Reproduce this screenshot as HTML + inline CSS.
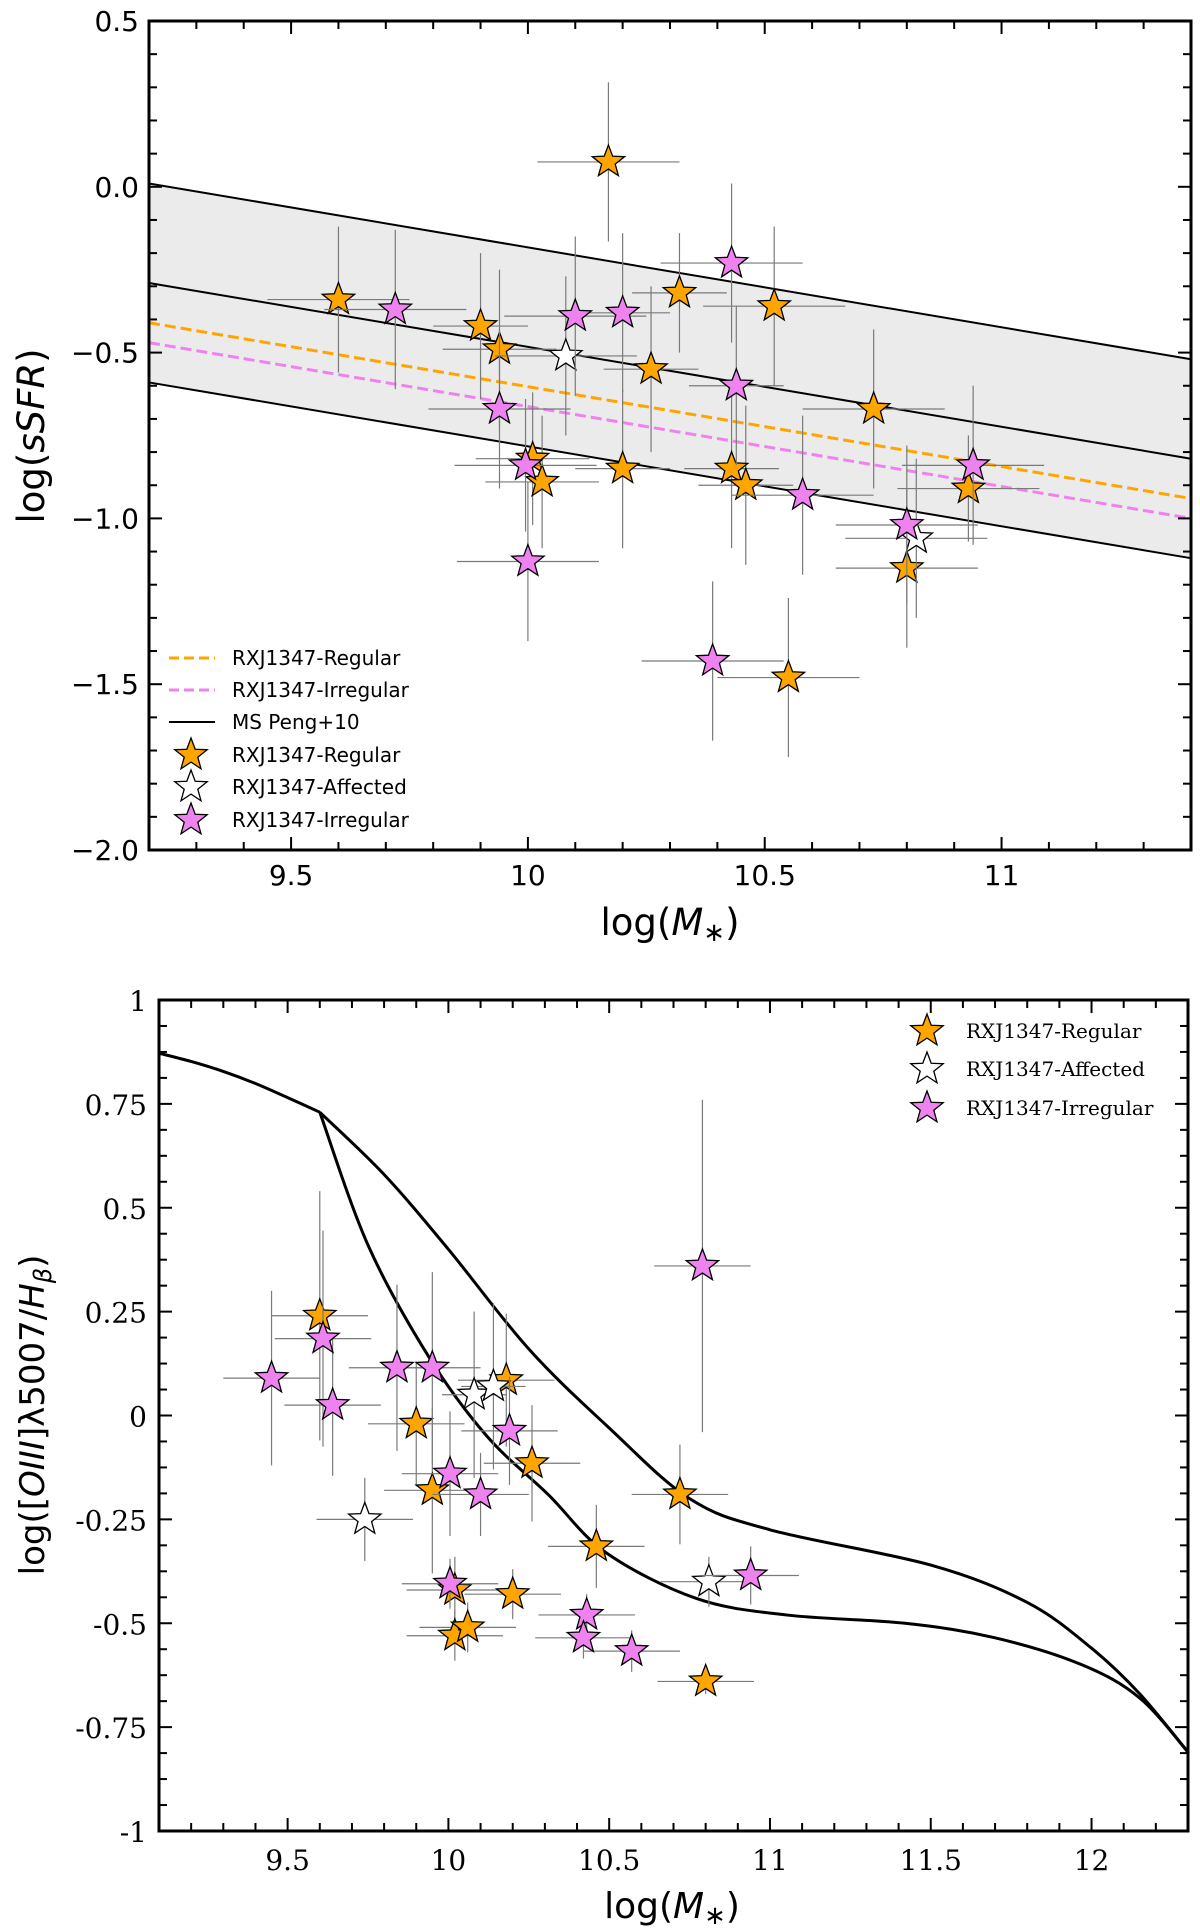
<!DOCTYPE html>
<html><head><meta charset="utf-8"><title>sSFR and MEx diagrams</title>
<style>
html,body{margin:0;padding:0;background:#fff;}
svg{display:block;}
.sans{font-family:"DejaVu Sans","Liberation Sans",sans-serif;}
.serif{font-family:"DejaVu Serif","Liberation Serif",serif;}
</style></head>
<body>
<svg id="fig" width="1200" height="1929" viewBox="0 0 1200 1929" xmlns="http://www.w3.org/2000/svg"></svg>
<script>
// ---------- Top panel data (log sSFR vs log M*) ----------
const topRegX  = [9.60, 9.90, 9.94, 10.01, 10.03, 10.17, 10.20, 10.26, 10.32, 10.43, 10.46, 10.52, 10.55, 10.73, 10.80, 10.93];
const topRegY  = [-0.34, -0.42, -0.49, -0.82, -0.89, 0.075, -0.85, -0.55, -0.32, -0.85, -0.90, -0.36, -1.48, -0.67, -1.15, -0.91];
const topRegXe = [0.15, 0.10, 0.12, 0.12, 0.12, 0.15, 0.10, 0.10, 0.10, 0.10, 0.10, 0.15, 0.15, 0.15, 0.15, 0.15];
const topRegYe = [0.22, 0.22, 0.24, 0.20, 0.20, 0.24, 0.24, 0.25, 0.18, 0.24, 0.24, 0.24, 0.24, 0.24, 0.24, 0.16];
const topAffX  = [10.08, 10.82];
const topAffY  = [-0.51, -1.06];
const topAffXe = [0.15, 0.15];
const topAffYe = [0.24, 0.24];
const topIrrX  = [9.72, 9.94, 9.995, 10.00, 10.10, 10.20, 10.39, 10.43, 10.44, 10.58, 10.80, 10.94];
const topIrrY  = [-0.37, -0.67, -0.84, -1.13, -0.39, -0.38, -1.43, -0.23, -0.60, -0.93, -1.02, -0.84];
const topIrrXe = [0.15, 0.15, 0.15, 0.15, 0.15, 0.10, 0.15, 0.15, 0.10, 0.15, 0.15, 0.15];
const topIrrYe = [0.24, 0.24, 0.20, 0.24, 0.24, 0.24, 0.24, 0.24, 0.24, 0.24, 0.24, 0.24];
const msEndX   = [9.2, 11.4];
const msUpper  = [0.01, -0.52];
const msMid    = [-0.29, -0.82];
const msLower  = [-0.59, -1.12];
const fitReg   = [-0.41, -0.94];
const fitIrr   = [-0.47, -1.00];
const topXTicks = [9.5, 10, 10.5, 11];
const topXTickLabels = ["9.5", "10", "10.5", "11"];
const topYTicks = [0.5, 0.0, -0.5, -1.0, -1.5, -2.0];
const topYTickLabels = ["0.5", "0.0", "\u22120.5", "\u22121.0", "\u22121.5", "\u22122.0"];

// ---------- Bottom panel data (MEx diagram) ----------
const botRegX  = [9.60, 9.90, 9.95, 10.02, 10.02, 10.06, 10.18, 10.20, 10.26, 10.46, 10.72, 10.80];
const botRegY  = [0.24, -0.02, -0.18, -0.42, -0.53, -0.51, 0.085, -0.43, -0.115, -0.315, -0.19, -0.64];
const botRegXe = [0.15, 0.15, 0.15, 0.15, 0.15, 0.15, 0.15, 0.15, 0.15, 0.15, 0.15, 0.15];
const botRegYe = [0.30, 0.15, 0.20, 0.08, 0.06, 0.06, 0.16, 0.06, 0.14, 0.10, 0.12, 0.03];
const botAffX  = [9.74, 10.08, 10.14, 10.81];
const botAffY  = [-0.25, 0.05, 0.07, -0.40];
const botAffXe = [0.15, 0.10, 0.10, 0.15];
const botAffYe = [0.10, 0.20, 0.20, 0.06];
const botIrrX  = [9.45, 9.61, 9.64, 9.84, 9.95, 10.005, 10.10, 10.005, 10.19, 10.43, 10.42, 10.57, 10.79, 10.94];
const botIrrY  = [0.09, 0.185, 0.025, 0.115, 0.115, -0.14, -0.19, -0.405, -0.037, -0.48, -0.535, -0.567, 0.36, -0.385];
const botIrrXe = [0.15, 0.15, 0.15, 0.15, 0.15, 0.15, 0.15, 0.15, 0.15, 0.15, 0.15, 0.15, 0.15, 0.15];
const botIrrYe = [0.21, 0.26, 0.17, 0.20, 0.23, 0.15, 0.10, 0.06, 0.13, 0.05, 0.05, 0.05, 0.40, 0.07];
const curveShareX = [9.1, 9.2, 9.3, 9.4, 9.5, 9.6];
const curveShareY = [0.872, 0.852, 0.828, 0.799, 0.765, 0.73];
const curveUpX = [9.6, 9.8, 10.0, 10.25, 10.5, 10.75, 11.0, 11.5, 11.8, 12.0, 12.15, 12.3];
const curveUpY = [0.73, 0.58, 0.40, 0.16, -0.03, -0.20, -0.275, -0.36, -0.45, -0.56, -0.67, -0.81];
const curveLoX = [9.6, 9.75, 9.94, 10.12, 10.31, 10.49, 10.77, 11.05, 11.42, 11.7, 11.97, 12.15, 12.3];
const curveLoY = [0.73, 0.41, 0.14, -0.05, -0.19, -0.33, -0.44, -0.48, -0.50, -0.535, -0.60, -0.68, -0.81];
const botXTicks = [9.5, 10, 10.5, 11, 11.5, 12];
const botXTickLabels = ["9.5", "10", "10.5", "11", "11.5", "12"];
const botYTicks = [1, 0.75, 0.5, 0.25, 0, -0.25, -0.5, -0.75, -1];
const botYTickLabels = ["1", "0.75", "0.5", "0.25", "0", "-0.25", "-0.5", "-0.75", "-1"];

const NS = "http://www.w3.org/2000/svg";
const svg = document.getElementById("fig");
function mk(tag, attrs, parent) {
  const e = document.createElementNS(NS, tag);
  for (const k in attrs) e.setAttribute(k, attrs[k]);
  (parent || svg).appendChild(e);
  return e;
}
function starPath(cx, cy, R) {
  const r = R * 0.42; let d = "";
  for (let i = 0; i < 10; i++) {
    const a = -Math.PI / 2 + i * Math.PI / 5;
    const rr = i % 2 ? r : R;
    d += (i ? "L" : "M") + (cx + rr * Math.cos(a)).toFixed(2) + "," + (cy + rr * Math.sin(a)).toFixed(2);
  }
  return d + "Z";
}
function scale(d0, d1, p0, p1) { return v => p0 + (v - d0) / (d1 - d0) * (p1 - p0); }

function axesFrame(g, L, R, T, B, sx, sy, xMinor, xMajor, yMinorL, yMinorR, yMajor, xr, yr) {
  const tk = (x1, y1, x2, y2) => mk("line", {x1, y1, x2, y2, stroke: "#000", "stroke-width": 2}, g);
  for (let v = Math.ceil(xr[0] / xMinor - 1e-6) * xMinor; v <= xr[1] + 1e-9; v += xMinor) {
    const X = sx(v); const maj = Math.abs(v / xMajor - Math.round(v / xMajor)) < 1e-6;
    const len = maj ? 13 : 8;
    tk(X, B, X, B - len); tk(X, T, X, T + len);
  }
  for (let v = Math.ceil(yr[0] / yMinorL - 1e-6) * yMinorL; v <= yr[1] + 1e-9; v += yMinorL) {
    const Y = sy(v); const maj = Math.abs(v / yMajor - Math.round(v / yMajor)) < 1e-6;
    tk(L, Y, L + (maj ? 13 : 8), Y);
  }
  for (let v = Math.ceil(yr[0] / yMinorR - 1e-6) * yMinorR; v <= yr[1] + 1e-9; v += yMinorR) {
    const Y = sy(v); const maj = Math.abs(v / yMajor - Math.round(v / yMajor)) < 1e-6;
    tk(R, Y, R - (maj ? 13 : 8), Y);
  }
  const fr = mk("rect", {x: L, y: T, width: R - L, height: B - T, fill: "none", stroke: "#000", "stroke-width": 3}, g);
  
  
}

function drawSeries(g, xs, ys, xe, ye, fill, sx, sy, name) {
  const eg = mk("g", {}, g);
  
  
  for (let i = 0; i < xs.length; i++) {
    mk("line", {x1: sx(xs[i] - xe[i]), x2: sx(xs[i] + xe[i]), y1: sy(ys[i]), y2: sy(ys[i]), stroke: "#7a7a7a", "stroke-width": 1.2}, eg);
    mk("line", {x1: sx(xs[i]), x2: sx(xs[i]), y1: sy(ys[i] - ye[i]), y2: sy(ys[i] + ye[i]), stroke: "#7a7a7a", "stroke-width": 1.2}, eg);
  }
  const sg = mk("g", {}, g);
  
  
  for (let i = 0; i < xs.length; i++) {
    const p = mk("path", {d: starPath(sx(xs[i]), sy(ys[i]), 17), fill, stroke: "#000", "stroke-width": 1.3, "stroke-linejoin": "miter"}, sg);
    
    
  }
}
function polyline(g, xs, ys, sx, sy, attrs, name) {
  let d = "";
  for (let i = 0; i < xs.length; i++) d += (i ? "L" : "M") + sx(xs[i]).toFixed(2) + "," + sy(ys[i]).toFixed(2);
  const p = mk("path", Object.assign({d, fill: "none"}, attrs), g);
  
  
  return p;
}
function smoothLine(g, xs, ys, sx, sy, attrs, name) {
  const P = xs.map((x, i) => [sx(x), sy(ys[i])]);
  let d = "M" + P[0][0] + "," + P[0][1];
  for (let i = 0; i < P.length - 1; i++) {
    const p0 = P[Math.max(i - 1, 0)], p1 = P[i], p2 = P[i + 1], p3 = P[Math.min(i + 2, P.length - 1)];
    const c1 = [p1[0] + (p2[0] - p0[0]) / 6, p1[1] + (p2[1] - p0[1]) / 6];
    const c2 = [p2[0] - (p3[0] - p1[0]) / 6, p2[1] - (p3[1] - p1[1]) / 6];
    d += "C" + c1.join(",") + " " + c2.join(",") + " " + p2.join(",");
  }
  const p = mk("path", Object.assign({d, fill: "none"}, attrs), g);
  
  
}
function text(g, x, y, s, attrs, name) {
  const t = mk("text", Object.assign({x, y}, attrs), g);
  t.textContent = s;
  
  
  return t;
}

// ================= TOP PANEL =================
(function () {
  const L = 149, R = 1191, T = 21, B = 850;
  const sx = scale(9.2, 11.4, L, R), sy = scale(0.5, -2.0, T, B);
  const g = mk("g", {});
  
  
  const band = mk("path", {d: "M" + sx(msEndX[0]) + "," + sy(msUpper[0]) + "L" + sx(msEndX[1]) + "," + sy(msUpper[1]) + "L" + sx(msEndX[1]) + "," + sy(msLower[1]) + "L" + sx(msEndX[0]) + "," + sy(msLower[0]) + "Z", fill: "#ebebeb"}, g);
  
  
  polyline(g, msEndX, msUpper, sx, sy, {stroke: "#000", "stroke-width": 2}, "ms-upper-line");
  polyline(g, msEndX, msMid, sx, sy, {stroke: "#000", "stroke-width": 2}, "ms-peng-line");
  polyline(g, msEndX, msLower, sx, sy, {stroke: "#000", "stroke-width": 2}, "ms-lower-line");
  polyline(g, msEndX, fitReg, sx, sy, {stroke: "#ffa500", "stroke-width": 3, "stroke-dasharray": "11,5"}, "regular-fit-line");
  polyline(g, msEndX, fitIrr, sx, sy, {stroke: "#ee82ee", "stroke-width": 3, "stroke-dasharray": "11,5"}, "irregular-fit-line");
  drawSeries(g, topRegX, topRegY, topRegXe, topRegYe, "#ffa500", sx, sy, "regular");
  drawSeries(g, topAffX, topAffY, topAffXe, topAffYe, "#ffffff", sx, sy, "affected");
  drawSeries(g, topIrrX, topIrrY, topIrrXe, topIrrYe, "#ee82ee", sx, sy, "irregular");
  axesFrame(g, L, R, T, B, sx, sy, 0.1, 0.5, 0.1, 0.1, 0.5, [9.2, 11.4], [-2, 0.5]);
  topXTicks.forEach((v, i) => text(g, sx(v), 885, topXTickLabels[i], {class: "sans", "font-size": 28, "text-anchor": "middle"}, "x-tick-label"));
  topYTicks.forEach((v, i) => text(g, 139, sy(v) + 10, topYTickLabels[i], {class: "sans", "font-size": 28, "text-anchor": "end"}, "y-tick-label"));
  const xl = text(g, 670, 935, "", {class: "sans", "font-size": 37, "text-anchor": "middle"}, "x-axis-title");
  xl.innerHTML = 'log(<tspan font-style="italic">M</tspan><tspan font-size="26" dy="6">∗</tspan><tspan dy="-6">)</tspan>';
  const yl = text(g, 0, 0, "", {class: "sans", "font-size": 37, "text-anchor": "middle", transform: "translate(44,436) rotate(-90)"}, "y-axis-title");
  yl.innerHTML = 'log(<tspan font-style="italic">sSFR</tspan>)';
  const lg = mk("g", {});
  
  
  const ly = [658, 690, 722, 755, 787, 820];
  const labs = ["RXJ1347-Regular", "RXJ1347-Irregular", "MS Peng+10", "RXJ1347-Regular", "RXJ1347-Affected", "RXJ1347-Irregular"];
  mk("line", {x1: 169, x2: 215, y1: ly[0], y2: ly[0], stroke: "#ffa500", "stroke-width": 3, "stroke-dasharray": "10,5"}, lg);
  mk("line", {x1: 169, x2: 215, y1: ly[1], y2: ly[1], stroke: "#ee82ee", "stroke-width": 3, "stroke-dasharray": "10,5"}, lg);
  mk("line", {x1: 169, x2: 215, y1: ly[2], y2: ly[2], stroke: "#000", "stroke-width": 2}, lg);
  ["#ffa500", "#ffffff", "#ee82ee"].forEach((c, i) => mk("path", {d: starPath(191, ly[3 + i], 17), fill: c, stroke: "#000", "stroke-width": 1.3}, lg));
  labs.forEach((s, i) => text(lg, 232, ly[i] + 7, s, {class: "sans", "font-size": 20}, "legend-entry"));
})();

// ================= BOTTOM PANEL =================
(function () {
  const L = 159, R = 1188, T = 1000, B = 1831;
  const sx = scale(9.1, 12.3, L, R), sy = scale(1, -1, T, B);
  const g = mk("g", {});
  
  
  smoothLine(g, curveShareX, curveShareY, sx, sy, {stroke: "#000", "stroke-width": 3}, "mex-shared-curve");
  smoothLine(g, curveUpX, curveUpY, sx, sy, {stroke: "#000", "stroke-width": 3}, "mex-upper-curve");
  smoothLine(g, curveLoX, curveLoY, sx, sy, {stroke: "#000", "stroke-width": 3}, "mex-lower-curve");
  drawSeries(g, botRegX, botRegY, botRegXe, botRegYe, "#ffa500", sx, sy, "regular");
  drawSeries(g, botAffX, botAffY, botAffXe, botAffYe, "#ffffff", sx, sy, "affected");
  drawSeries(g, botIrrX, botIrrY, botIrrXe, botIrrYe, "#ee82ee", sx, sy, "irregular");
  axesFrame(g, L, R, T, B, sx, sy, 0.1, 0.5, 0.0625, 0.0625, 0.25, [9.1, 12.3], [-1, 1]);
  botXTicks.forEach((v, i) => text(g, sx(v), 1870, botXTickLabels[i], {class: "serif", "font-size": 28, "text-anchor": "middle"}, "x-tick-label"));
  botYTicks.forEach((v, i) => text(g, 147, sy(v) + 11, botYTickLabels[i], {class: "serif", "font-size": 28, "text-anchor": "end"}, "y-tick-label"));
  const xl = text(g, 672, 1918, "", {class: "sans", "font-size": 36, "text-anchor": "middle"}, "x-axis-title");
  xl.innerHTML = 'log(<tspan font-style="italic">M</tspan><tspan font-size="26" dy="6">∗</tspan><tspan dy="-6">)</tspan>';
  const yl = text(g, 0, 0, "", {class: "sans", "font-size": 34, "text-anchor": "middle", transform: "translate(44,1415) rotate(-90)"}, "y-axis-title");
  yl.innerHTML = 'log([<tspan font-style="italic">OIII</tspan>]λ5007/<tspan font-style="italic">H</tspan><tspan font-style="italic" font-size="24" dy="7">β</tspan><tspan dy="-7">)</tspan>';
  const lg = mk("g", {});
  
  
  const ly = [1031, 1069, 1108];
  const labs = ["RXJ1347-Regular", "RXJ1347-Affected", "RXJ1347-Irregular"];
  ["#ffa500", "#ffffff", "#ee82ee"].forEach((c, i) => mk("path", {d: starPath(927, ly[i], 17), fill: c, stroke: "#000", "stroke-width": 1.3}, lg));
  labs.forEach((s, i) => text(lg, 966, ly[i] + 7, s, {class: "serif", "font-size": 20}, "legend-entry"));
})();
</script>
</body></html>
